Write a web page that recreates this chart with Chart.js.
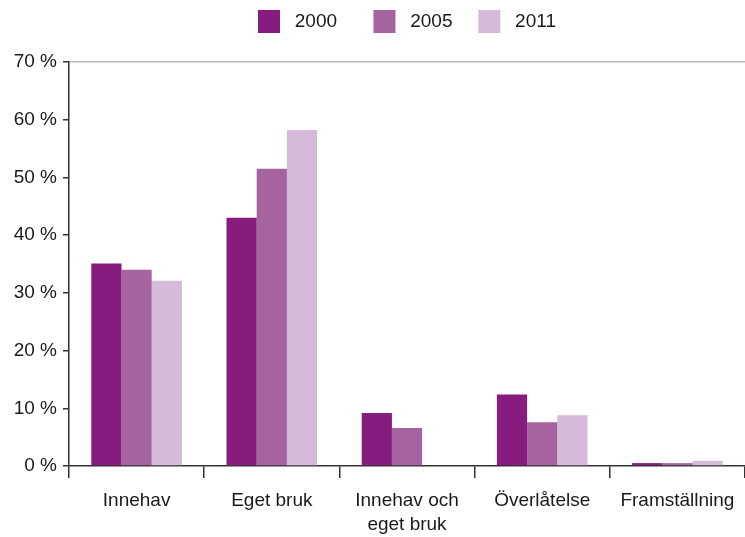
<!DOCTYPE html>
<html>
<head>
<meta charset="utf-8">
<script src="https://cdn.jsdelivr.net/npm/chart.js@4.4.1/dist/chart.umd.min.js"></script>
<style>
  body { margin: 0; background: #fff; }
  #wrap { width: 745px; height: 537px; }
</style>
</head>
<body>
<div id="wrap"><canvas id="chart" width="745" height="537"></canvas></div>
<script>
// kategorier och värden (procent)
const categories = ['Innehav', 'Eget bruk', ['Innehav och', 'eget bruk'], 'Överlåtelse', 'Framställning'];
const years = ['2000', '2005', '2011'];
const values2000 = [35.1, 43.0, 9.2, 12.4, 0.5];
const values2005 = [34.0, 51.5, 6.6, 7.6, 0.5];
const values2011 = [32.1, 58.2, null, 8.8, 0.9];
const colors = ['#861c7e', '#a563a0', '#d5bbd9'];
const legendSpaces = ['     ', '   ', ''];

const textColor = '#1a1a1a';
const axisColor = '#333333';
const font = { family: '"Liberation Sans", Arial, Helvetica, sans-serif', size: 19 };

// extra luft mellan legend och diagramyta
const legendGap = {
    id: 'legendGap',
    beforeInit(chart) {
        const origFit = chart.legend.fit;
        chart.legend.fit = function () {
            origFit.bind(chart.legend)();
            this.height += 19;
        };
    }
};

const ctx = document.getElementById('chart').getContext('2d');
new Chart(ctx, {
    type: 'bar',
    data: {
        labels: categories,
        datasets: [values2000, values2005, values2011].map((vals, i) => ({
            label: years[i],
            data: vals,
            backgroundColor: colors[i],
            borderWidth: 0,
            categoryPercentage: 0.67,
            barPercentage: 1
        }))
    },
    options: {
        responsive: false,
        animation: false,
        layout: { padding: { left: 0, right: 0, top: 0, bottom: 0 } },
        plugins: {
            tooltip: { enabled: false },
            legend: {
                position: 'top',
                fullSize: false,
                labels: {
                    color: textColor,
                    font: font,
                    boxWidth: 22,
                    boxHeight: 23,
                    padding: 10,
                    generateLabels: chart => chart.data.datasets.map((ds, i) => ({
                        text: ' ' + ds.label + legendSpaces[i],
                        fillStyle: ds.backgroundColor,
                        strokeStyle: ds.backgroundColor,
                        lineWidth: 0,
                        fontColor: textColor,
                        datasetIndex: i
                    }))
                }
            }
        },
        scales: {
            x: {
                grid: {
                    offset: true,
                    drawOnChartArea: false,
                    tickLength: 12,
                    tickColor: axisColor,
                    lineWidth: 1.5
                },
                border: { color: axisColor, width: 1.5 },
                ticks: {
                    color: textColor,
                    font: Object.assign({}, font, { lineHeight: 1.3 }),
                    padding: 10,
                    maxRotation: 0,
                    autoSkip: false
                },
                afterFit: s => { s.height = 71; }
            },
            y: {
                min: 0,
                max: 70,
                ticks: {
                    stepSize: 10,
                    color: textColor,
                    font: font,
                    padding: 6,
                    callback: v => v + ' %'
                },
                grid: {
                    tickLength: 6,
                    tickColor: axisColor,
                    lineWidth: 1.5,
                    color: c => (c.tick && c.tick.value === 70) ? '#b8bec8' : 'rgba(0,0,0,0)'
                },
                border: { color: axisColor, width: 1.5 },
                afterFit: s => { s.width = 69; }
            }
        }
    },
    plugins: [legendGap]
});
</script>
</body>
</html>
